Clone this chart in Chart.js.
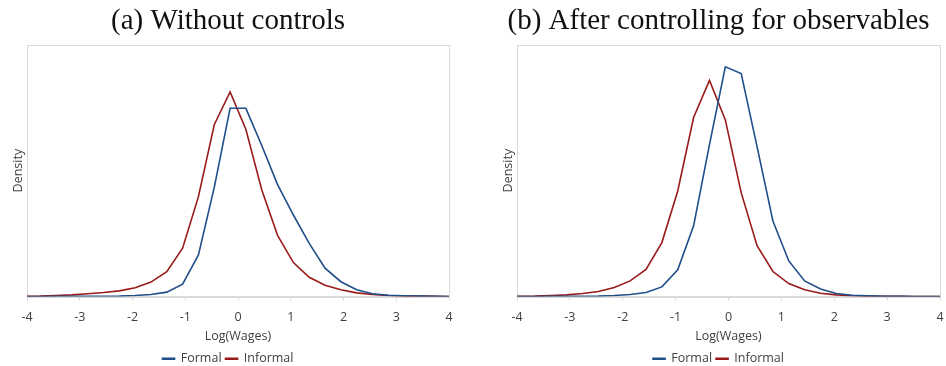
<!DOCTYPE html>
<html>
<head>
<meta charset="utf-8">
<script src="https://cdn.jsdelivr.net/npm/chart.js@4.4.0/dist/chart.umd.min.js"></script>
<style>
    html, body { margin: 0; padding: 0; background: #ffffff; }
    .wrap { position: absolute; top: 0; width: 473px; height: 366px; }
    #wrap-a { left: 0; }
    #wrap-b { left: 473px; }
</style>
</head>
<body>
<div class="wrap" id="wrap-a"><canvas id="chart-a"></canvas></div>
<div class="wrap" id="wrap-b"><canvas id="chart-b"></canvas></div>
<script>
// Panel (a): log wage grid and densities
const xA = [-4.05, -3.75, -3.45, -3.15, -2.85, -2.55, -2.25, -1.95, -1.65, -1.35, -1.05, -0.75, -0.45, -0.15,
            0.15, 0.45, 0.75, 1.05, 1.35, 1.65, 1.95, 2.25, 2.55, 2.85, 3.15, 3.45, 3.75, 4.05];
const formalA = [0, 0.0001, 0.0003, 0.0003, 0.0005, 0.0008, 0.001, 0.0025, 0.005, 0.011, 0.031, 0.104, 0.273, 0.471,
                 0.471, 0.378, 0.280, 0.204, 0.133, 0.071, 0.037, 0.017, 0.007, 0.003, 0.002, 0.001, 0.0003, 0];
const informalA = [0.0005, 0.001, 0.0025, 0.004, 0.007, 0.010, 0.014, 0.022, 0.036, 0.062, 0.121, 0.250, 0.430, 0.512,
                   0.418, 0.267, 0.153, 0.085, 0.048, 0.028, 0.017, 0.009, 0.005, 0.0025, 0.001, 0.001, 0.0003, 0];

// Panel (b): after controlling for observables
const xB = [-4.26, -3.96, -3.66, -3.36, -3.06, -2.76, -2.46, -2.16, -1.86, -1.56, -1.26, -0.96, -0.66, -0.36, -0.06,
            0.24, 0.54, 0.84, 1.14, 1.44, 1.74, 2.04, 2.34, 2.64, 2.94, 3.24, 3.54, 3.84, 4.14];
const formalB = [0, 0, 0.0001, 0.0003, 0.0005, 0.0008, 0.001, 0.0025, 0.005, 0.010, 0.024, 0.067, 0.177, 0.380, 0.575,
                 0.558, 0.375, 0.189, 0.089, 0.039, 0.019, 0.0075, 0.003, 0.0015, 0.0008, 0.0003, 0.0001, 0, 0];
const informalB = [0, 0.0005, 0.001, 0.0025, 0.004, 0.0075, 0.0125, 0.0225, 0.039, 0.068, 0.135, 0.264, 0.448, 0.541, 0.442,
                   0.260, 0.127, 0.0625, 0.0325, 0.017, 0.008, 0.004, 0.002, 0.001, 0.0005, 0.0003, 0.0001, 0, 0];

const titles = ['(a) Without controls', '(b) After controlling for observables'];
const seriesNames = ['Formal', 'Informal'];
const xTicks = [-4, -3, -2, -1, 0, 1, 2, 3, 4];

const BLUE = '#1f4e89';
const RED = '#9a1a1a';
const GRID = '#d9d9d9';
const TEXT = '#404040';
const SANS = "'Open Sans', 'Noto Sans', sans-serif";

// light frame around the plot area, like the spreadsheet chart
const frame = {
    id: 'frame',
    beforeDatasetsDraw(chart) {
        const a = chart.chartArea;
        const ctx = chart.ctx;
        ctx.save();
        ctx.strokeStyle = GRID;
        ctx.lineWidth = 1;
        ctx.strokeRect(Math.round(a.left) + 0.5, Math.round(a.top) + 0.5,
                       Math.round(a.right - a.left), Math.round(a.bottom - a.top));
        ctx.restore();
    }
};

function pts(xs, ys) {
    return xs.map((x, i) => ({ x: x, y: ys[i] }));
}

function makeChart(id, title, xs, formal, informal, pad) {
    const ctx = document.getElementById(id).getContext('2d');
    return new Chart(ctx, {
        type: 'line',
        data: {
            datasets: [
                {
                    label: seriesNames[0],
                    data: pts(xs, formal),
                    borderColor: BLUE,
                    backgroundColor: BLUE,
                    borderWidth: 1.6,
                    pointRadius: 0,
                    tension: 0
                },
                {
                    label: seriesNames[1],
                    data: pts(xs, informal),
                    borderColor: RED,
                    backgroundColor: RED,
                    borderWidth: 1.6,
                    pointRadius: 0,
                    tension: 0
                }
            ]
        },
        options: {
            responsive: true,
            maintainAspectRatio: false,
            animation: false,
            layout: { padding: pad },
            scales: {
                x: {
                    type: 'linear',
                    min: -4,
                    max: 4,
                    afterBuildTicks: (scale) => { scale.ticks = xTicks.map(v => ({ value: v })); },
                    // last label "4" only needs half its width on the right
                    afterFit: (scale) => { scale.paddingRight = Math.min(scale.paddingRight, 4); },
                    grid: { drawOnChartArea: false, drawTicks: true, tickLength: 4, color: GRID },
                    border: { color: GRID },
                    ticks: { color: TEXT, padding: 9, font: { family: SANS, size: 12.5 } },
                    title: {
                        display: true,
                        text: 'Log(Wages)',
                        color: TEXT,
                        padding: { top: -5, bottom: 5 },
                        font: { family: SANS, size: 12.5 }
                    }
                },
                y: {
                    min: 0,
                    max: 0.63,
                    grid: { display: false, drawTicks: false },
                    border: { display: false },
                    ticks: { display: false },
                    title: {
                        display: true,
                        text: 'Density',
                        color: TEXT,
                        padding: { top: 4, bottom: 1 },
                        font: { family: SANS, size: 12.5 }
                    }
                }
            },
            plugins: {
                title: {
                    display: true,
                    text: title,
                    color: '#111111',
                    padding: { top: 4, bottom: 6 },
                    font: { family: "'Liberation Serif', 'DejaVu Serif', serif", size: 29, weight: 'normal' }
                },
                legend: {
                    position: 'bottom',
                    labels: {
                        color: TEXT,
                        boxWidth: 12,
                        boxHeight: 1,
                        padding: 4,
                        font: { family: SANS, size: 12.5 }
                    }
                },
                tooltip: { enabled: false }
            }
        },
        plugins: [frame]
    });
}

makeChart('chart-a', titles[0], xA, formalA, informalA, { left: 7, right: 24, top: 0, bottom: -9 });
makeChart('chart-b', titles[1], xB, formalB, informalB, { left: 24, right: 6, top: 0, bottom: -9 });
</script>
</body>
</html>
